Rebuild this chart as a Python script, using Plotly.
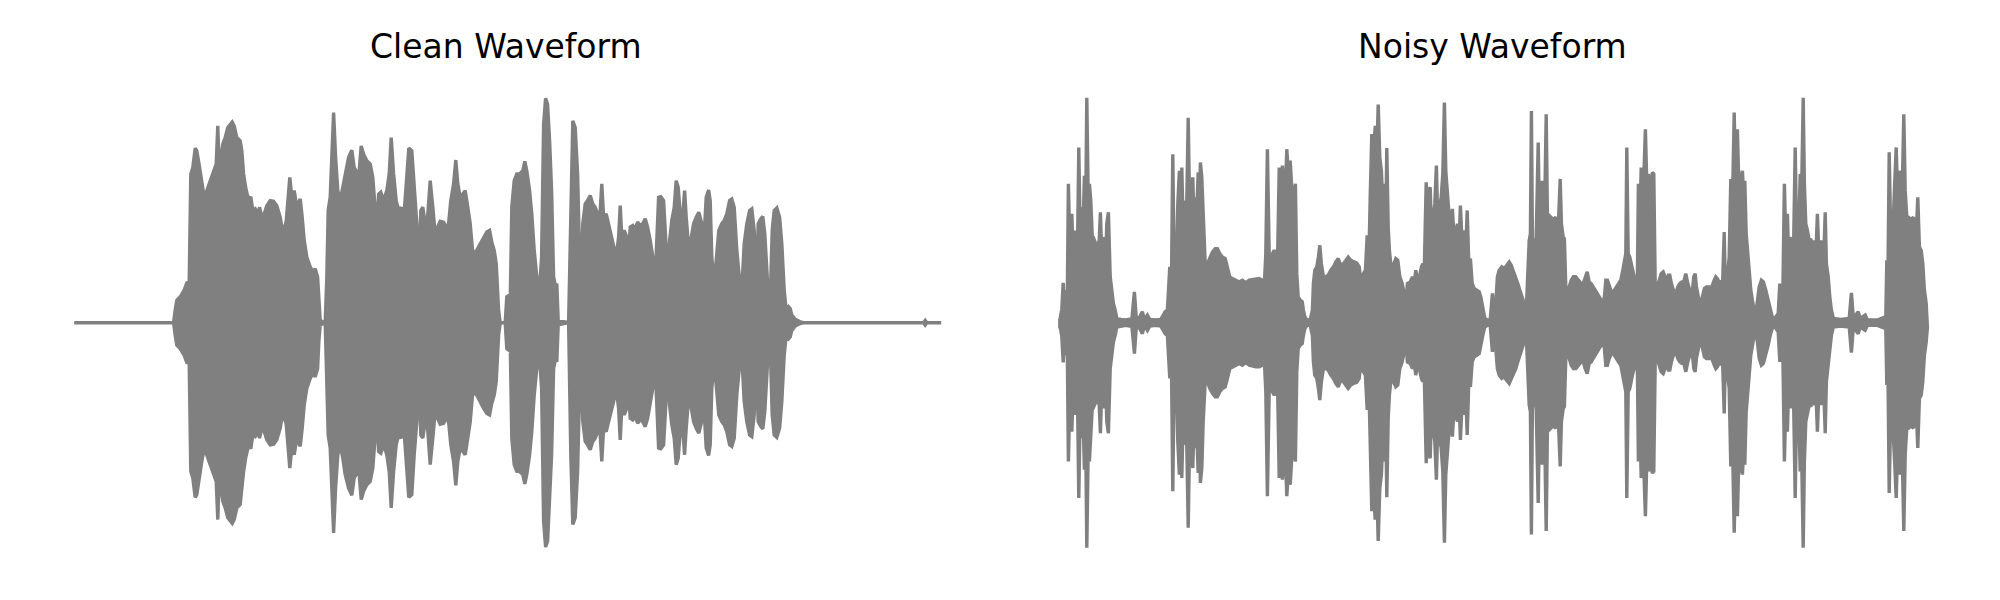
import plotly.graph_objects as go

# ---------------- data: amplitude envelope (normalised, symmetric) ----------------
clean_t = [0.000, 0.497, 0.505, 0.513, 0.530, 0.550, 0.563, 0.575, 0.583, 0.593, 0.605, 0.613, 0.627, 0.638, 0.650,
           0.663, 0.680, 0.697, 0.710, 0.718, 0.725, 0.743, 0.755, 0.768, 0.780, 0.790, 0.800, 0.813, 0.830, 0.838,
           0.847, 0.857, 0.872, 0.883, 0.893, 0.905, 0.917, 0.927, 0.938, 0.950, 0.963, 0.980, 0.997, 1.013, 1.030,
           1.043, 1.060, 1.078, 1.088, 1.100, 1.113, 1.130, 1.140, 1.150, 1.163, 1.180, 1.193, 1.205, 1.217, 1.223,
           1.230, 1.255, 1.263, 1.270, 1.280, 1.288, 1.297, 1.307, 1.318, 1.330, 1.343, 1.355, 1.372, 1.388, 1.400,
           1.413, 1.425, 1.435, 1.447, 1.463, 1.480, 1.493, 1.505, 1.513, 1.522, 1.533, 1.547, 1.563, 1.575, 1.585,
           1.597, 1.610, 1.622, 1.635, 1.647, 1.660, 1.673, 1.688, 1.700, 1.713, 1.723, 1.733, 1.743, 1.755, 1.767,
           1.780, 1.793, 1.805, 1.817, 1.830, 1.847, 1.860, 1.872, 1.883, 1.897, 1.908, 1.918, 1.930, 1.943, 1.955,
           1.968, 1.980, 1.993, 2.013, 2.030, 2.047, 2.063, 2.077, 2.088, 2.100, 2.110, 2.122, 2.130, 2.155, 2.163,
           2.173, 2.180, 2.188, 2.200, 2.213, 2.227, 2.243, 2.253, 2.263, 2.277, 2.288, 2.300, 2.313, 2.327, 2.337,
           2.347, 2.357, 2.367, 2.377, 2.387, 2.397, 2.407, 2.413, 2.420, 2.472, 2.477, 2.483, 2.493, 2.505, 2.517,
           2.527, 2.535, 2.543, 2.555, 2.567, 2.580, 2.593, 2.605, 2.617, 2.627, 2.638, 2.647, 2.660, 2.672, 2.683,
           2.697, 2.710, 2.722, 2.730, 2.738, 2.750, 2.763, 2.772, 2.780, 2.793, 2.805, 2.817, 2.830, 2.843, 2.855,
           2.867, 2.880, 2.893, 2.903, 2.913, 2.922, 2.933, 2.947, 2.957, 2.967, 2.977, 2.988, 3.000, 3.010, 3.020,
           3.030, 3.040, 3.052, 3.060, 3.072, 3.083, 3.097, 3.110, 3.123, 3.138, 3.150, 3.160, 3.172, 3.180, 3.188,
           3.200, 3.213, 3.223, 3.238, 3.250, 3.263, 3.277, 3.288, 3.300, 3.313, 3.327, 3.338, 3.350, 3.363, 3.377,
           3.388, 3.400, 3.410, 3.420, 3.433, 3.443, 3.453, 3.467, 3.480, 3.490, 3.500, 3.513, 3.527, 3.538, 3.550,
           3.560, 3.572, 3.580, 3.588, 3.605, 3.630, 3.647, 4.247, 4.255, 4.263, 4.335]
clean_amp = [0, 0, 0.056, 0.10, 0.115, 0.145, 0.177, 0.18, 0.66, 0.69, 0.776, 0.764, 0.69, 0.617, 0.557,
             0.587, 0.63, 0.675, 0.705, 0.875, 0.683, 0.794, 0.823, 0.867, 0.882, 0.892, 0.875, 0.823, 0.808, 0.764,
             0.661, 0.602, 0.543, 0.56, 0.499, 0.506, 0.484, 0.513, 0.469, 0.484, 0.52, 0.543, 0.54, 0.52, 0.469,
             0.40, 0.45, 0.646, 0.557, 0.587, 0.513, 0.55, 0.469, 0.366, 0.292, 0.248, 0.226, 0.24, 0.204, 0.086,
             0.01, 0, 0.2, 0.5, 0.557, 0.735, 0.934, 0.735, 0.587, 0.543, 0.602, 0.675, 0.735, 0.767, 0.69,
             0.668, 0.675, 0.786, 0.749, 0.72, 0.705, 0.646, 0.499, 0.41, 0.572, 0.58, 0.543, 0.587, 0.661, 0.823,
             0.661, 0.543, 0.499, 0.513, 0.454, 0.617, 0.776, 0.764, 0.587, 0.44, 0.218, 0.499, 0.513, 0.44, 0.469,
             0.631, 0.513, 0.395, 0.425, 0.451, 0.447, 0.425, 0.44, 0.543, 0.617, 0.723, 0.617, 0.557, 0.572, 0.587,
             0.513, 0.44, 0.307, 0.322, 0.351, 0.381, 0.403, 0.41, 0.358, 0.322, 0.263, 0.056, 0, 0, 0.115,
             0.122, 0.086, 0.513, 0.631, 0.661, 0.661, 0.675, 0.717, 0.675, 0.587, 0.484, 0.322, 0.204, 0.159, 0.292,
             0.882, 0.997, 0.97, 0.808, 0.587, 0.204, 0.159, 0.174, 0.01, 0, 0.2, 0.587, 0.897, 0.867, 0.661,
             0.292, 0.233, 0.44, 0.528, 0.543, 0.565, 0.528, 0.513, 0.484, 0.454, 0.617, 0.469, 0.484, 0.44, 0.395,
             0.351, 0.292, 0.381, 0.521, 0.381, 0.41, 0.381, 0.292, 0.425, 0.432, 0.417, 0.447, 0.432, 0.44, 0.462,
             0.425, 0.366, 0.292, 0.159, 0.366, 0.557, 0.56, 0.543, 0.381, 0.204, 0.366, 0.454, 0.513, 0.631, 0.602,
             0.484, 0.44, 0.587, 0.469, 0.336, 0.366, 0.44, 0.469, 0.491, 0.44, 0.395, 0.557, 0.59, 0.543, 0.292,
             0.174, 0.322, 0.41, 0.44, 0.454, 0.484, 0.543, 0.55, 0.513, 0.322, 0.189, 0.145, 0.351, 0.44, 0.499,
             0.506, 0.41, 0.145, 0.44, 0.462, 0.472, 0.395, 0.174, 0.1, 0.41, 0.499, 0.51, 0.469, 0.351, 0.145,
             0.056, 0.071, 0.063, 0.034, 0.015, 0.004, 0, 0, 0.01, 0, 0]

noisy_t = [0.000, 0.003, 0.010, 0.017, 0.022, 0.030, 0.037, 0.043, 0.052, 0.060, 0.067, 0.073, 0.080, 0.088, 0.095,
           0.103, 0.110, 0.117, 0.123, 0.130, 0.135, 0.142, 0.148, 0.155, 0.163, 0.170, 0.180, 0.188, 0.197, 0.203,
           0.210, 0.217, 0.223, 0.230, 0.235, 0.243, 0.252, 0.260, 0.268, 0.277, 0.285, 0.305, 0.330, 0.347, 0.360,
           0.373, 0.383, 0.400, 0.413, 0.423, 0.438, 0.450, 0.480, 0.505, 0.513, 0.527, 0.538, 0.550, 0.557, 0.565,
           0.573, 0.583, 0.590, 0.598, 0.605, 0.610, 0.618, 0.627, 0.633, 0.642, 0.650, 0.658, 0.665, 0.672, 0.678,
           0.685, 0.692, 0.697, 0.703, 0.710, 0.717, 0.727, 0.738, 0.750, 0.763, 0.777, 0.788, 0.800, 0.813, 0.827,
           0.838, 0.850, 0.863, 0.880, 0.897, 0.913, 0.930, 0.947, 0.963, 0.980, 0.997, 1.013, 1.023, 1.030, 1.038,
           1.047, 1.055, 1.063, 1.072, 1.080, 1.088, 1.097, 1.105, 1.113, 1.122, 1.128, 1.135, 1.143, 1.152, 1.158,
           1.165, 1.172, 1.178, 1.185, 1.192, 1.202, 1.212, 1.218, 1.225, 1.235, 1.252, 1.263, 1.268, 1.275, 1.285,
           1.293, 1.300, 1.308, 1.318, 1.330, 1.342, 1.355, 1.368, 1.380, 1.392, 1.405, 1.418, 1.430, 1.442, 1.455,
           1.468, 1.485, 1.497, 1.508, 1.518, 1.528, 1.537, 1.545, 1.552, 1.560, 1.568, 1.577, 1.585, 1.592, 1.600,
           1.608, 1.617, 1.623, 1.630, 1.635, 1.642, 1.648, 1.658, 1.668, 1.680, 1.690, 1.700, 1.712, 1.722, 1.728,
           1.738, 1.752, 1.763, 1.772, 1.780, 1.788, 1.798, 1.808, 1.815, 1.822, 1.832, 1.838, 1.845, 1.852, 1.858,
           1.867, 1.875, 1.883, 1.890, 1.898, 1.907, 1.915, 1.923, 1.930, 1.938, 1.947, 1.955, 1.963, 1.972, 1.980,
           1.988, 1.997, 2.003, 2.013, 2.022, 2.030, 2.037, 2.045, 2.053, 2.062, 2.072, 2.085, 2.097, 2.105, 2.115,
           2.125, 2.138, 2.152, 2.163, 2.172, 2.180, 2.188, 2.197, 2.210, 2.222, 2.233, 2.247, 2.257, 2.267, 2.280,
           2.290, 2.300, 2.310, 2.322, 2.333, 2.340, 2.347, 2.353, 2.358, 2.363, 2.372, 2.380, 2.387, 2.392, 2.398,
           2.405, 2.412, 2.418, 2.425, 2.432, 2.438, 2.447, 2.455, 2.463, 2.472, 2.480, 2.487, 2.493, 2.502, 2.508,
           2.517, 2.523, 2.530, 2.537, 2.547, 2.557, 2.568, 2.580, 2.593, 2.607, 2.617, 2.627, 2.637, 2.647, 2.657,
           2.667, 2.677, 2.688, 2.697, 2.707, 2.717, 2.723, 2.730, 2.738, 2.747, 2.755, 2.763, 2.773, 2.783, 2.793,
           2.805, 2.815, 2.823, 2.830, 2.835, 2.842, 2.850, 2.857, 2.863, 2.872, 2.880, 2.888, 2.893, 2.900, 2.907,
           2.913, 2.920, 2.928, 2.935, 2.943, 2.950, 2.957, 2.963, 2.970, 2.977, 2.987, 2.997, 3.007, 3.017, 3.027,
           3.035, 3.043, 3.050, 3.058, 3.068, 3.080, 3.090, 3.100, 3.110, 3.120, 3.130, 3.140, 3.150, 3.160, 3.170,
           3.177, 3.183, 3.193, 3.203, 3.213, 3.223, 3.233, 3.247, 3.260, 3.272, 3.280, 3.288, 3.300, 3.305, 3.313,
           3.322, 3.328, 3.338, 3.347, 3.355, 3.363, 3.372, 3.380, 3.388, 3.397, 3.405, 3.413, 3.418, 3.425, 3.432,
           3.438, 3.447, 3.455, 3.463, 3.472, 3.480, 3.488, 3.497, 3.508, 3.518, 3.530, 3.542, 3.552, 3.562, 3.572,
           3.582, 3.592, 3.600, 3.608, 3.615, 3.623, 3.632, 3.638, 3.645, 3.652, 3.660, 3.668, 3.677, 3.685, 3.693,
           3.702, 3.710, 3.717, 3.723, 3.730, 3.738, 3.747, 3.755, 3.763, 3.772, 3.780, 3.788, 3.797, 3.805, 3.813,
           3.822, 3.827, 3.833, 3.842, 3.850, 3.858, 3.868, 3.905, 3.947, 3.958, 3.968, 3.980, 3.992, 4.002, 4.015,
           4.027, 4.038, 4.088, 4.130, 4.135, 4.140, 4.147, 4.155, 4.162, 4.168, 4.175, 4.182, 4.188, 4.197, 4.205,
           4.213, 4.220, 4.227, 4.235, 4.243, 4.252, 4.260, 4.268, 4.275, 4.283, 4.290, 4.298, 4.307, 4.315, 4.323,
           4.332, 4.338]
noisy_amp = [0.02, 0.025, 0.06, 0.177, 0.086, 0.145, 0.07, 0.617, 0.262, 0.484, 0.292, 0.41, 0.145, 0.292, 0.779,
             0.322, 0.513, 0.44, 0.653, 0.543, 1.0, 0.557, 0.617, 0.543, 0.366, 0.373, 0.351, 0.336, 0.366, 0.491,
             0.292, 0.381, 0.262, 0.292, 0.44, 0.491, 0.204, 0.145, 0.086, 0.056, 0.019, 0.015, 0.012, 0.015, 0.012,
             0.137, 0.012, 0.027, 0.049, 0.012, 0.034, 0.015, 0.012, 0.015, 0.027, 0.049, 0.056, 0.248, 0.07, 0.749,
             0.145, 0.262, 0.528, 0.675, 0.41, 0.69, 0.381, 0.543, 0.44, 0.911, 0.469, 0.543, 0.646, 0.41, 0.557,
             0.499, 0.668, 0.44, 0.712, 0.646, 0.44, 0.262, 0.262, 0.292, 0.314, 0.329, 0.329, 0.307, 0.292, 0.285,
             0.248, 0.204, 0.196, 0.189, 0.181, 0.189, 0.177, 0.189, 0.192, 0.196, 0.196, 0.189, 0.174, 0.307, 0.771,
             0.30, 0.20, 0.307, 0.322, 0.307, 0.233, 0.69, 0.557, 0.698, 0.587, 0.587, 0.771, 0.661, 0.72, 0.631,
             0.366, 0.587, 0.617, 0.218, 0.115, 0.1, 0.093, 0.056, 0.027, 0.012, 0.012, 0.056, 0.174, 0.233, 0.248,
             0.292, 0.344, 0.262, 0.204, 0.204, 0.211, 0.233, 0.248, 0.27, 0.285, 0.255, 0.262, 0.277, 0.292, 0.277,
             0.27, 0.265, 0.248, 0.159, 0.218, 0.233, 0.388, 0.262, 0.557, 0.838, 0.735, 0.875, 0.735, 0.97, 0.735,
             0.675, 0.484, 0.617, 0.44, 0.776, 0.425, 0.322, 0.233, 0.262, 0.285, 0.277, 0.204, 0.174, 0.13, 0.056,
             0.174, 0.181, 0.204, 0.181, 0.233, 0.189, 0.204, 0.248, 0.262, 0.218, 0.624, 0.395, 0.587, 0.602, 0.41,
             0.469, 0.528, 0.698, 0.44, 0.513, 0.557, 0.661, 0.978, 0.675, 0.557, 0.469, 0.44, 0.506, 0.366, 0.41,
             0.44, 0.366, 0.521, 0.322, 0.41, 0.322, 0.499, 0.262, 0.285, 0.174, 0.152, 0.145, 0.137, 0.115, 0.056,
             0.019, 0.012, 0.012, 0.13, 0.027, 0.086, 0.204, 0.233, 0.248, 0.24, 0.255, 0.27, 0.255, 0.233, 0.204,
             0.174, 0.145, 0.115, 0.086, 0.07, 0.248, 0.366, 0.395, 0.941, 0.381, 0.336, 0.292, 0.587, 0.801, 0.454,
             0.381, 0.631, 0.469, 0.543, 0.926, 0.484, 0.476, 0.469, 0.462, 0.462, 0.469, 0.41, 0.44, 0.639, 0.44,
             0.381, 0.373, 0.159, 0.07, 0.159, 0.189, 0.204, 0.204, 0.189, 0.174, 0.174, 0.204, 0.226, 0.181, 0.174,
             0.159, 0.145, 0.13, 0.115, 0.1, 0.086, 0.115, 0.189, 0.189, 0.159, 0.145, 0.13, 0.145, 0.159, 0.174,
             0.189, 0.233, 0.277, 0.307, 0.779, 0.307, 0.292, 0.262, 0.233, 0.204, 0.189, 0.204, 0.617, 0.44, 0.69,
             0.646, 0.646, 0.86, 0.617, 0.661, 0.587, 0.646, 0.668, 0.661, 0.174, 0.159, 0.189, 0.218, 0.226, 0.204,
             0.181, 0.211, 0.211, 0.174, 0.145, 0.13, 0.159, 0.174, 0.181, 0.181, 0.218, 0.174, 0.145, 0.115, 0.204,
             0.218, 0.159, 0.115, 0.07, 0.115, 0.152, 0.159, 0.159, 0.159, 0.189, 0.204, 0.196, 0.174, 0.189, 0.145,
             0.403, 0.145, 0.204, 0.292, 0.639, 0.513, 0.934, 0.587, 0.86, 0.543, 0.631, 0.675, 0.587, 0.631, 0.395,
             0.322, 0.233, 0.145, 0.1, 0.056, 0.041, 0.086, 0.159, 0.189, 0.181, 0.145, 0.1, 0.056, 0.027, 0.015,
             0.027, 0.041, 0.174, 0.07, 0.115, 0.617, 0.292, 0.484, 0.262, 0.381, 0.292, 0.292, 0.779, 0.322, 0.336,
             0.661, 0.631, 1.0, 0.617, 0.44, 0.41, 0.366, 0.373, 0.336, 0.366, 0.292, 0.484, 0.262, 0.366, 0.292,
             0.351, 0.491, 0.262, 0.204, 0.115, 0.056, 0.019, 0.015, 0.019, 0.133, 0.019, 0.034, 0.049, 0.019, 0.027,
             0.034, 0.012, 0.012, 0.027, 0.277, 0.145, 0.757, 0.366, 0.41, 0.469, 0.631, 0.779, 0.587, 0.675, 0.631,
             0.617, 0.926, 0.587, 0.469, 0.469, 0.462, 0.462, 0.469, 0.381, 0.41, 0.557, 0.336, 0.322, 0.262, 0.145,
             0.086, 0.02]

titles = ["Clean Waveform", "Noisy Waveform"]
WAVE_COLOR = "#808080"


def envelope(t, amp):
    """Closed outline: upper envelope forward, lower (mirrored) envelope backward."""
    xs = list(t) + list(reversed(t)) + [t[0]]
    ys = list(amp) + [-a for a in reversed(amp)] + [amp[0]]
    return xs, ys


fig = go.Figure()
for (t, a), (xa, ya) in zip([(clean_t, clean_amp), (noisy_t, noisy_amp)], [("x", "y"), ("x2", "y2")]):
    xs, ys = envelope(t, a)
    fig.add_trace(go.Scatter(x=xs, y=ys, xaxis=xa, yaxis=ya, mode="lines", fill="toself",
                             fillcolor=WAVE_COLOR, line=dict(color=WAVE_COLOR, width=3.4),
                             hoverinfo="skip", showlegend=False))

y_dom = [0.02055, 0.91096]
y_rng = [-1.1436, 1.1676]
title_font = dict(family="DejaVu Sans", size=33, color="black")
fig.update_layout(
    width=1984, height=584,
    margin=dict(l=0, r=0, t=0, b=0),
    paper_bgcolor="white", plot_bgcolor="white",
    xaxis=dict(domain=[0.01613, 0.48992], range=[-0.171, 4.529], visible=False),
    yaxis=dict(domain=y_dom, range=y_rng, visible=False, anchor="x"),
    xaxis2=dict(domain=[0.51008, 0.98387], range=[-0.199, 4.501], visible=False),
    yaxis2=dict(domain=y_dom, range=y_rng, visible=False, anchor="x2"),
    annotations=[
        dict(text=titles[0], x=0.2510, y=0.9340, xref="paper", yref="paper",
             xanchor="center", yanchor="middle", showarrow=False, font=title_font),
        dict(text=titles[1], x=0.7480, y=0.9340, xref="paper", yref="paper",
             xanchor="center", yanchor="middle", showarrow=False, font=title_font),
    ],
)

fig.write_html("out.html")
